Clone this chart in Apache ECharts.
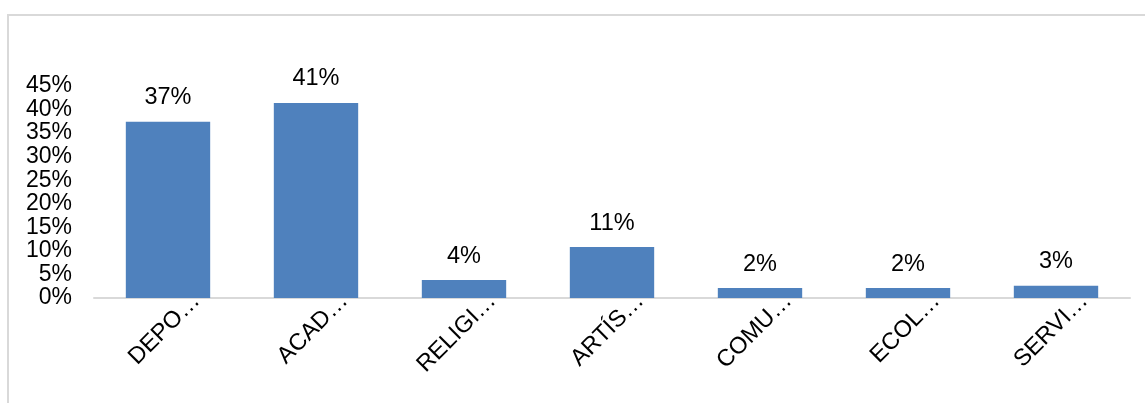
<!DOCTYPE html>
<html>
<head>
<meta charset="utf-8">
<script src="https://cdn.jsdelivr.net/npm/echarts@6/dist/echarts.min.js"></script>
<style>
html,body{margin:0;padding:0;background:#fff;}
#frame{position:absolute;left:7px;top:14px;width:1200px;height:500px;border-left:2px solid #d9d9d9;border-top:2px solid #d9d9d9;}
#chart{position:absolute;left:0;top:0;width:1145px;height:403px;}
</style>
</head>
<body>
<div id="frame"></div>
<div id="chart"></div>
<script>
const categories = ['DEPO…', 'ACAD…', 'RELIGI…', 'ARTÍS…', 'COMU…', 'ECOL…', 'SERVI…'];
const values = [0.374, 0.414, 0.038, 0.108, 0.021, 0.021, 0.026];
const yTicks = [0, 0.05, 0.10, 0.15, 0.20, 0.25, 0.30, 0.35, 0.40, 0.45];

const pct = v => Math.round(v * 100) + '%';
const FONT = '"Liberation Sans", Arial, sans-serif';

const chart = echarts.init(document.getElementById('chart'));
chart.setOption({
  animation: false,
  grid: { left: 94, right: 15, top: 86, bottom: 105, containLabel: false },
  xAxis: {
    type: 'category',
    data: categories,
    axisLine: { show: true, lineStyle: { color: '#d9d9d9', width: 2 } },
    axisTick: { show: false },
    axisLabel: {
      rotate: 45,
      interval: 0,
      color: '#000',
      fontFamily: FONT,
      fontSize: 23.5,
      verticalAlign: 'top',
      padding: [28, 0, 0, 0],
      margin: -29
    }
  },
  yAxis: {
    type: 'value',
    min: yTicks[0],
    max: yTicks[yTicks.length - 1],
    interval: 0.05,
    axisLine: { show: false },
    axisTick: { show: false },
    splitLine: { show: false },
    axisLabel: {
      color: '#000',
      fontFamily: FONT,
      fontSize: 23,
      lineHeight: 16,
      margin: 22,
      showMinLabel: true,
      showMaxLabel: true,
      hideOverlap: false,
      formatter: v => pct(v)
    }
  },
  series: [{
    type: 'bar',
    data: values,
    barCategoryGap: '43%',
    itemStyle: { color: '#4f81bd' },
    label: {
      show: true,
      position: 'top',
      distance: 12,
      color: '#000',
      fontFamily: FONT,
      fontSize: 23.5,
      formatter: p => pct(p.value)
    }
  }]
});
</script>
</body>
</html>
